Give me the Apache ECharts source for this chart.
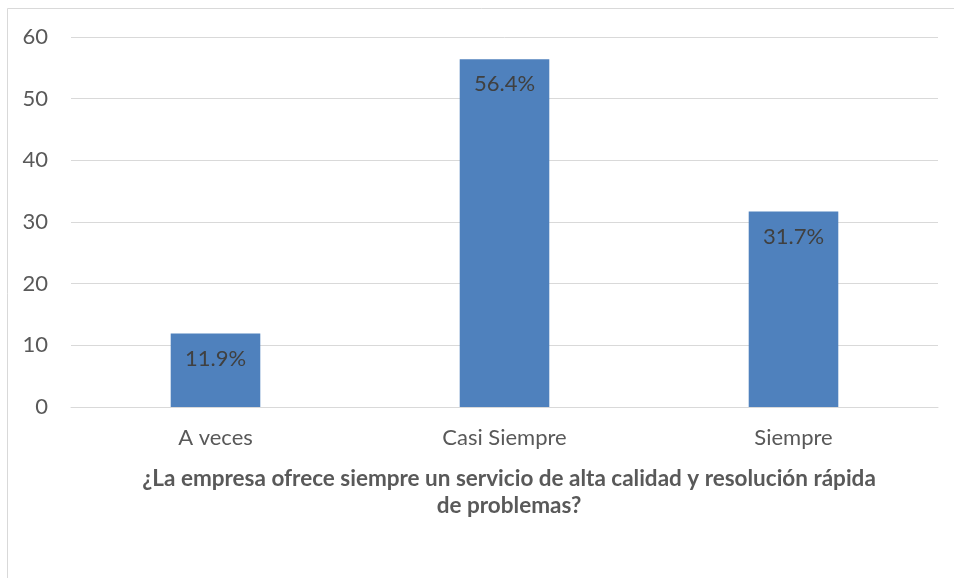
<!DOCTYPE html>
<html><head><meta charset="utf-8">
<script src="https://cdn.jsdelivr.net/npm/echarts@6/dist/echarts.min.js"></script>
<style>html,body{margin:0;padding:0;background:#fff}#c{width:954px;height:578px}</style>
</head><body><div id="c"></div>
<script>
const categories = ['A veces', 'Casi Siempre', 'Siempre'];
const values = [11.9, 56.4, 31.7];
const yTicks = [0, 10, 20, 30, 40, 50, 60];
const axisTitle = '¿La empresa ofrece siempre un servicio de alta calidad y resolución rápida\nde problemas?';

const chart = echarts.init(document.getElementById('c'));
chart.setOption({
  animation: false,
  backgroundColor: '#fff',
  graphic: [{
    type: 'rect', shape: {x: 7.5, y: 8.5, width: 960, height: 600},
    style: {fill: 'none', stroke: '#d9d9d9', lineWidth: 1}
  }],
  title: {
    text: axisTitle, left: 504, top: 460, textAlign: 'center',
    textStyle: {fontFamily: 'Lato', fontSize: 22.5, fontWeight: 'bold', color: '#595959', lineHeight: 27}
  },
  grid: {left: 71, right: 16, top: 37, bottom: 171},
  xAxis: {
    type: 'category', data: categories,
    axisLine: {lineStyle: {color: '#d9d9d9', width: 1}},
    axisTick: {show: false},
    axisLabel: {fontFamily: 'Lato', fontSize: 22, color: '#595959', margin: 20}
  },
  yAxis: {
    type: 'value', min: yTicks[0], max: yTicks[yTicks.length - 1], interval: 10,
    axisLine: {show: false}, axisTick: {show: false},
    splitLine: {lineStyle: {color: '#d9d9d9', width: 1}},
    axisLabel: {fontFamily: 'Lato', fontSize: 22, color: '#595959', margin: 23, align: 'right'}
  },
  series: [{
    type: 'bar', data: values, barWidth: '31%',
    itemStyle: {color: '#4F81BD'},
    label: {show: true, position: 'insideTop', distance: 14, formatter: p => p.value.toFixed(1) + '%',
      fontFamily: 'Lato', fontSize: 22, color: '#404040'}
  }]
});
</script></body></html>
